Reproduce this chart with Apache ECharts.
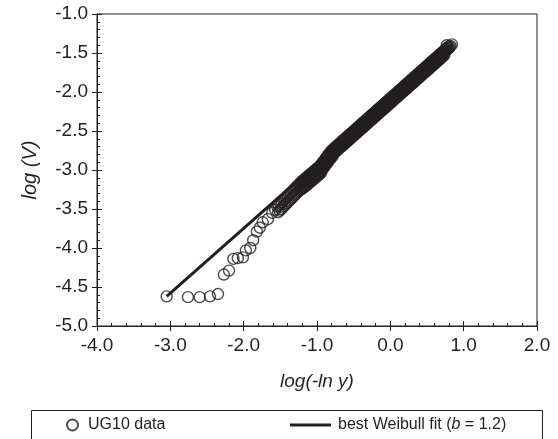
<!DOCTYPE html>
<html>
<head>
<meta charset="utf-8">
<script src="https://cdn.jsdelivr.net/npm/echarts@6/dist/echarts.min.js"></script>
<style>html,body{margin:0;padding:0;background:#fff}#c{width:558px;height:439px}</style>
</head>
<body>
<div id="c"></div>
<script>
// Sparse tail of data points (log(-ln y), log V)
var tailX = [-3.05,-2.76,-2.60,-2.46,-2.35,-2.27,-2.20,-2.14,-2.08,-2.01,-1.97,-1.91,-1.87,-1.82,-1.78,-1.74,-1.67,-1.61,-1.57];
var tailY = [-4.62,-4.63,-4.63,-4.62,-4.59,-4.34,-4.29,-4.14,-4.13,-4.12,-4.03,-4.00,-3.90,-3.79,-3.74,-3.67,-3.63,-3.55,-3.51];
// Dense band of data points (upper track)
var bandX = [-1.54,-1.52,-1.50,-1.48,-1.46,-1.44,-1.42,-1.40,-1.38,-1.36,-1.34,-1.32,-1.30,-1.28,-1.26,
  -1.24,-1.22,-1.20,-1.18,-1.16,-1.14,-1.12,-1.10,-1.08,-1.06,-1.04,-1.02,-1.00,-0.98,-0.96,
  -0.94,-0.92,-0.90,-0.88,-0.86,-0.84,-0.82,-0.80,
  -0.78,-0.76,-0.74,-0.72,-0.70,-0.68,-0.66,-0.64,-0.62,-0.60,-0.58,-0.56,-0.54,-0.52,-0.50,
  -0.48,-0.46,-0.44,-0.42,-0.40,-0.38,-0.36,-0.34,-0.32,-0.30,-0.28,-0.26,-0.24,-0.22,-0.20,
  -0.18,-0.16,-0.14,-0.12,-0.10,-0.08,-0.06,-0.04,-0.02,0.00,0.02,0.04,0.06,0.08,0.10,
  0.12,0.14,0.16,0.18,0.20,0.22,0.24,0.26,0.28,0.30,0.32,0.34,0.36,0.38,0.40,
  0.42,0.44,0.46,0.48,0.50,0.52,0.54,0.56,0.58,0.60,0.62,0.64,0.66,0.68,0.70,
  0.72,0.74,0.76,0.78,0.80];
var bandY = [-3.470,-3.451,-3.432,-3.412,-3.393,-3.373,-3.354,-3.335,-3.315,-3.296,-3.276,-3.257,-3.238,-3.218,-3.199,
  -3.182,-3.166,-3.150,-3.134,-3.118,-3.102,-3.086,-3.070,-3.054,-3.038,-3.022,-3.006,-2.990,-2.974,-2.958,
  -2.937,-2.912,-2.887,-2.861,-2.836,-2.810,-2.785,-2.760,
  -2.743,-2.727,-2.710,-2.693,-2.677,-2.660,-2.643,-2.626,-2.610,-2.593,-2.576,-2.560,-2.543,-2.526,-2.510,
  -2.493,-2.476,-2.459,-2.443,-2.426,-2.409,-2.393,-2.376,-2.359,-2.343,-2.326,-2.309,-2.292,-2.276,-2.259,
  -2.242,-2.226,-2.209,-2.192,-2.176,-2.159,-2.142,-2.125,-2.109,-2.092,-2.075,-2.059,-2.042,-2.025,-2.009,
  -1.992,-1.975,-1.958,-1.942,-1.925,-1.908,-1.892,-1.875,-1.858,-1.842,-1.825,-1.808,-1.791,-1.775,-1.758,
  -1.741,-1.725,-1.708,-1.691,-1.675,-1.658,-1.641,-1.624,-1.608,-1.591,-1.574,-1.558,-1.541,-1.524,-1.508,
  -1.491,-1.474,-1.457,-1.441,-1.424];
// Dense band of data points (lower track)
var band2X = [-1.53,-1.51,-1.49,-1.47,-1.45,-1.43,-1.41,-1.39,-1.37,-1.35,-1.33,-1.31,-1.29,-1.27,-1.25,
  -1.23,-1.21,-1.19,-1.17,-1.15,-1.13,-1.11,-1.09,-1.07,-1.05,-1.03,-1.01,-0.99,-0.97,-0.95,
  -0.93,-0.91,-0.89,-0.87,-0.85,-0.83,-0.81,-0.79,
  -0.77,-0.75,-0.73,-0.71,-0.69,-0.67,-0.65,-0.63,-0.61,-0.59,-0.57,-0.55,-0.53,-0.51,-0.49,
  -0.47,-0.45,-0.43,-0.41,-0.39,-0.37,-0.35,-0.33,-0.31,-0.29,-0.27,-0.25,-0.23,-0.21,-0.19,
  -0.17,-0.15,-0.13,-0.11,-0.09,-0.07,-0.05,-0.03,-0.01,0.01,0.03,0.05,0.07,0.09,0.11,
  0.13,0.15,0.17,0.19,0.21,0.23,0.25,0.27,0.29,0.31,0.33,0.35,0.37,0.39,0.41,
  0.43,0.45,0.47,0.49,0.51,0.53,0.55,0.57,0.59,0.61,0.63,0.65,0.67,0.69,0.71,
  0.73];
var band2Y = [-3.541,-3.521,-3.502,-3.482,-3.463,-3.444,-3.424,-3.405,-3.386,-3.366,-3.347,-3.327,-3.308,-3.289,-3.270,
  -3.254,-3.238,-3.222,-3.206,-3.190,-3.174,-3.158,-3.142,-3.126,-3.110,-3.094,-3.078,-3.062,-3.046,-3.030,
  -2.985,-2.960,-2.934,-2.909,-2.883,-2.858,-2.833,-2.812,
  -2.775,-2.758,-2.742,-2.725,-2.708,-2.692,-2.675,-2.658,-2.641,-2.625,-2.608,-2.591,-2.575,-2.558,-2.541,
  -2.525,-2.508,-2.491,-2.474,-2.458,-2.441,-2.424,-2.408,-2.391,-2.374,-2.358,-2.341,-2.324,-2.307,-2.291,
  -2.274,-2.257,-2.241,-2.224,-2.207,-2.190,-2.174,-2.157,-2.140,-2.124,-2.107,-2.090,-2.074,-2.057,-2.040,
  -2.023,-2.007,-1.990,-1.973,-1.957,-1.940,-1.923,-1.907,-1.890,-1.873,-1.857,-1.840,-1.823,-1.806,-1.790,
  -1.773,-1.756,-1.740,-1.723,-1.706,-1.690,-1.673,-1.656,-1.639,-1.623,-1.606,-1.589,-1.573,-1.556,-1.539,
  -1.523];
// Top end points (visible as separate rings)
var headX = [0.77, 0.82, 0.84];
var headY = [-1.40, -1.41, -1.39];
// Best Weibull fit line endpoints
var fitX = [-3.05, 0.84];
var fitY = [-4.62, -1.39];
var xTicks = [-4.0,-3.0,-2.0,-1.0,0.0,1.0,2.0];
var yTicks = [-5.0,-4.5,-4.0,-3.5,-3.0,-2.5,-2.0,-1.5,-1.0];

var INK = '#231f20';
var FONT = 'Liberation Sans, Arial, sans-serif';
function zip(a,b){return a.map(function(v,i){return [v,b[i]];});}
var bandAll = zip(bandX,bandY).concat(zip(band2X,band2Y));
var SOLID_FROM = -1.22; // below this the overlapping rings are still distinguishable
var denseData = bandAll.filter(function(p){return p[0] >= SOLID_FROM;});
var ringData = zip(tailX,tailY).concat(zip(headX,headY))
  .concat(bandAll.filter(function(p){return p[0] < SOLID_FROM;}));

var chart = echarts.init(document.getElementById('c'), null, {renderer:'canvas'});
var baseAxis = {
  axisLine:{show:true,onZero:false,lineStyle:{color:INK,width:1}},
  splitLine:{show:false}
};
chart.setOption({
  animation:false,
  grid:{left:97,right:21,top:14,bottom:113,show:true,borderColor:INK,borderWidth:1,backgroundColor:'transparent'},
  xAxis:[
    Object.assign({type:'value',min:xTicks[0],max:xTicks[xTicks.length-1],interval:1,position:'bottom',
      name:'log(-ln y)',nameLocation:'middle',nameGap:46,
      nameTextStyle:{fontFamily:FONT,fontSize:19,fontStyle:'italic',color:INK},
      axisTick:{show:true,inside:false,length:5,lineStyle:{color:INK}},
      axisLabel:{fontFamily:FONT,fontSize:19,color:INK,margin:10,formatter:function(v){return v.toFixed(1);}}
    },baseAxis),
    Object.assign({type:'value',min:xTicks[0],max:xTicks[xTicks.length-1],interval:1,position:'bottom',
      axisTick:{show:true,inside:true,length:5,lineStyle:{color:INK}},
      minorTick:{show:true,splitNumber:5,length:3,lineStyle:{color:INK}},
      axisLabel:{show:false}
    },baseAxis)
  ],
  yAxis:[
    Object.assign({type:'value',min:yTicks[0],max:yTicks[yTicks.length-1],interval:0.5,position:'left',
      name:'log (V)',nameLocation:'middle',nameGap:57,nameRotate:90,
      nameTextStyle:{fontFamily:FONT,fontSize:20,fontStyle:'italic',color:INK},
      axisTick:{show:true,inside:false,length:5,lineStyle:{color:INK}},
      axisLabel:{fontFamily:FONT,fontSize:19,color:INK,margin:9,formatter:function(v){return v.toFixed(1);}}
    },baseAxis),
    Object.assign({type:'value',min:yTicks[0],max:yTicks[yTicks.length-1],interval:0.5,position:'left',
      axisTick:{show:true,inside:true,length:5,lineStyle:{color:INK}},
      minorTick:{show:true,splitNumber:5,length:3,lineStyle:{color:INK}},
      axisLabel:{show:false}
    },baseAxis)
  ],
  legend:[
    {data:['UG10 data'],left:61,top:412,itemWidth:11,itemHeight:11,
     textStyle:{fontFamily:FONT,fontSize:16,color:INK,padding:[0,0,0,5]}},
    {data:[{name:'best Weibull fit',icon:'rect'}],left:285,top:412,itemWidth:41,itemHeight:3,
     itemStyle:{color:INK,borderWidth:0},
     formatter:function(){return 'best Weibull fit ({i|b} = 1.2)';},
     textStyle:{fontFamily:FONT,fontSize:16,color:INK,padding:[0,0,0,2],
       rich:{i:{fontFamily:FONT,fontSize:16,fontStyle:'italic',color:INK}}}}
  ],
  graphic:[{type:'rect',left:29,top:408,shape:{width:511,height:29},
    style:{fill:'none',stroke:INK,lineWidth:1}}],
  series:[
    {name:'best Weibull fit',type:'line',xAxisIndex:0,yAxisIndex:0,data:zip(fitX,fitY),
     symbol:'none',lineStyle:{color:INK,width:3},itemStyle:{color:INK},z:2},
    {name:'UG10 data',type:'scatter',xAxisIndex:0,yAxisIndex:0,data:ringData,
     symbol:'circle',symbolSize:11,
     itemStyle:{color:'rgba(0,0,0,0)',borderColor:INK,borderWidth:1.4},z:3},
    {name:'UG10 data',type:'scatter',xAxisIndex:0,yAxisIndex:0,data:denseData,
     symbol:'circle',symbolSize:11,
     itemStyle:{color:'rgba(0,0,0,0)',borderColor:INK,borderWidth:2.6},z:3}
  ]
});
</script>
</body>
</html>
